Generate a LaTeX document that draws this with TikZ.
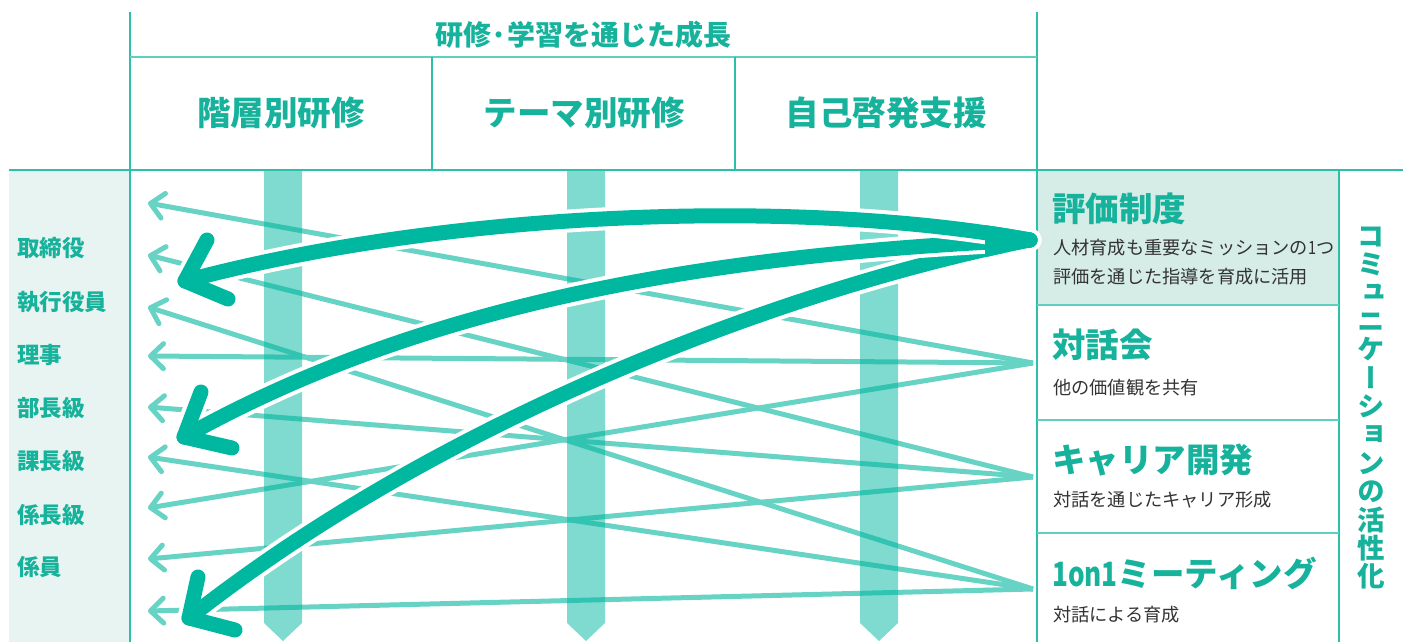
\documentclass[tikz,border=0pt]{standalone}
\usepackage{graphicx}
\usepackage{fontspec}
\setmainfont{Noto Sans CJK JP}
\newfontfamily\vfont{Noto Sans CJK JP}[RawFeature=+vert]
\usetikzlibrary{arrows.meta,calc}
\definecolor{main}{HTML}{00B7A0}
\definecolor{tealtext}{HTML}{16B29B}
\definecolor{frame}{HTML}{2CBFA9}
\definecolor{framelight}{HTML}{5DD0BF}
\definecolor{thinc}{HTML}{66D3C4}
\definecolor{leftbg}{HTML}{E8F4F1}
\definecolor{hyokabg}{HTML}{D5ECE7}
\definecolor{subc}{HTML}{333333}
\tikzset{
  frameline/.style={draw=frame, line width=2pt},
  framethin/.style={draw=frame, line width=1.4pt},
  framesep/.style={draw=framelight, line width=1.4pt},
  thinarrow/.style={draw=thinc, line width=5pt, -{Straight Barb[length=13pt,width=25pt,round]}},
  barshape/.style={fill=main, fill opacity=0.5},
  halo/.style={draw=white, line width=23pt, line cap=round, line join=round},
  thick/.style={draw=main, line width=15pt, line cap=round, line join=round},
  headbig/.style={text=tealtext, font=\fontsize{33.5}{33}\selectfont\bfseries, inner sep=0pt},
  headsmall/.style={text=tealtext, font=\fontsize{28}{28}\selectfont\bfseries, inner sep=0pt},
  rank/.style={text=tealtext, font=\fontsize{22.5}{23}\selectfont\bfseries, anchor=west, inner sep=0pt},
  ttl/.style={text=tealtext, font=\fontsize{33.5}{33}\selectfont\bfseries, anchor=west, inner sep=0pt},
  sub/.style={text=subc, font=\fontsize{18.2}{19}\selectfont, anchor=west, inner sep=0pt},
}
\begin{document}
\begin{tikzpicture}[x=1pt,y=-1pt]
\useasboundingbox (0,0) rectangle (1403,642);
% backgrounds
\fill[leftbg] (9,171) rectangle (129,642);
\fill[hyokabg] (1038,171) rectangle (1339,305);
% frame
\draw[frameline] (130,12) -- (130,642);
\draw[frameline] (1037,12) -- (1037,642);
\draw[frameline] (9,170) -- (1403,170);
\draw[framesep] (130,57) -- (1037,57);
\draw[framethin] (432,57) -- (432,170);
\draw[framethin] (735,57) -- (735,170);
\draw[framethin] (1339,170) -- (1339,642);
\draw[framesep] (1037,305) -- (1339,305);
\draw[framesep] (1037,420) -- (1339,420);
\draw[framesep] (1037,533) -- (1339,533);
% anchor coordinates
\coordinate (hyoka) at (1030,240);
\coordinate (taiwa) at (1033,363);
\coordinate (career) at (1033,477);
\coordinate (oneon) at (1033,589);
\coordinate (l1) at (148,203);
\coordinate (l2) at (148,255);
\coordinate (l3) at (148,307);
\coordinate (l4) at (148,356);
\coordinate (l5) at (148,407);
\coordinate (l6) at (148,457);
\coordinate (l7) at (148,508);
\coordinate (l8) at (148,559);
\coordinate (l9) at (148,611);
\coordinate (t1) at (185,281);
\coordinate (t2) at (184,437);
\coordinate (t3) at (189,618);
% thin arrows
\draw[thinarrow] (taiwa) -- (l1);
\draw[thinarrow] (taiwa) -- (l4);
\draw[thinarrow] (taiwa) -- (l7);
\draw[thinarrow] (career) -- (l2);
\draw[thinarrow] (career) -- (l5);
\draw[thinarrow] (career) -- (l8);
\draw[thinarrow] (oneon) -- (l3);
\draw[thinarrow] (oneon) -- (l6);
\draw[thinarrow] (oneon) -- (l9);
% bars
\foreach \bx in {283,586,879}{
  \fill[barshape] (\bx-19,171) -- (\bx+19,171) -- (\bx+19,623) -- (\bx,641) -- (\bx-19,623) -- cycle;
}
% thick arrows
\draw[halo] (hyoka) .. controls (800,285) and (450,412) .. (t3);
\draw[halo] ($(t3)+(9,-41)$) -- (t3) -- ($(t3)+(46,12)$);
\draw[thick] (hyoka) .. controls (800,285) and (450,412) .. (t3);
\draw[thick] ($(t3)+(9,-41)$) -- (t3) -- ($(t3)+(46,12)$);
\draw[halo] (hyoka) .. controls (700,255) and (420,305) .. (t2);
\draw[halo] ($(t2)+(17,-45)$) -- (t2) -- ($(t2)+(48,11)$);
\draw[thick] (hyoka) .. controls (700,255) and (420,305) .. (t2);
\draw[thick] ($(t2)+(17,-45)$) -- (t2) -- ($(t2)+(48,11)$);
\draw[halo] (hyoka) .. controls (800,198) and (450,210) .. (t1);
\draw[halo] ($(t1)+(22,-41)$) -- (t1) -- ($(t1)+(43,18)$);
\draw[thick] (hyoka) .. controls (800,198) and (450,210) .. (t1);
\draw[thick] ($(t1)+(22,-41)$) -- (t1) -- ($(t1)+(43,18)$);
\begin{scope}
\clip (985,200) rectangle (1045,280);
\draw[thick] (hyoka) .. controls (800,285) and (450,412) .. (t3);
\draw[thick] (hyoka) .. controls (700,255) and (420,305) .. (t2);
\draw[thick] (hyoka) .. controls (800,198) and (450,210) .. (t1);
\end{scope}
% header texts
\node[headsmall] (hdr) at (583,35) {研修\makebox[16pt]{·}学習を通じた成長};
\node[headbig] (h1) at (281,113) {階層別研修};
\node[headbig] (h2) at (584,113) {テーマ別研修};
\node[headbig] (h3) at (886,113) {自己啓発支援};
% left ranks
\node[rank] (r1) at (17,248) {取締役};
\node[rank] (r2) at (17,302) {執行役員};
\node[rank] (r3) at (17,355) {理事};
\node[rank] (r4) at (17,408) {部長級};
\node[rank] (r5) at (17,461) {課長級};
\node[rank] (r6) at (17,515) {係長級};
\node[rank] (r7) at (17,567) {係員};
% right boxes
\node[ttl] (b1) at (1052,209) {評価制度};
\node[sub] (b1a) at (1053,248) {人材育成も重要なミッションの\scalebox{0.8}[1]{1}つ};
\node[sub] (b1b) at (1053,277) {評価を通じた指導を育成に活用};
\node[ttl] (b2) at (1052,345) {対話会};
\node[sub] (b2a) at (1053,388) {他の価値観を共有};
\node[ttl] (b3) at (1052,460) {キャリア開発};
\node[sub] (b3a) at (1053,500) {対話を通じたキャリア形成};
\node[ttl] (b4) at (1052,573) {\scalebox{0.78}[1]{1on1}ミーティング};
\node[sub] (b4a) at (1053,615) {対話による育成};
% vertical text
\node[text=tealtext, inner sep=0pt, align=center, font=\vfont\fontsize{27.5}{28.4}\selectfont\bfseries] (vt) at (1371,408)
  {コ\\ミ\\ュ\\ニ\\ケ\\ー\\シ\\ョ\\ン\\の\\活\\性\\化};
\end{tikzpicture}
\end{document}
